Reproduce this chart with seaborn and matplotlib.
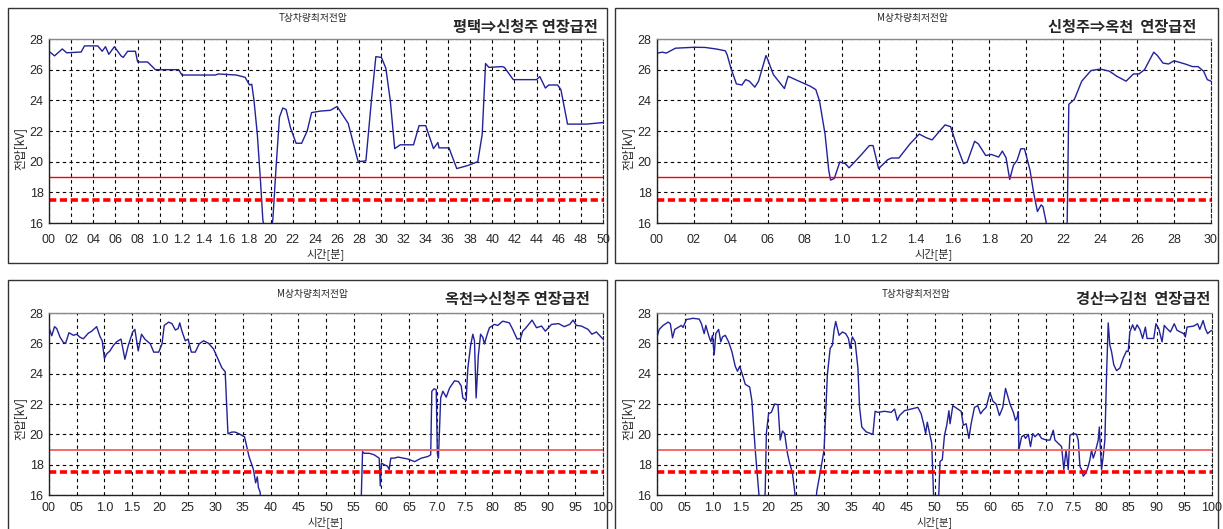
import numpy as np
import matplotlib
matplotlib.use("Agg")
import matplotlib.pyplot as plt
import seaborn as sns

# ---- data ----
titles = ["T상차량최저전압", "M상차량최저전압", "M상차량최저전압", "T상차량최저전압"]
routes = ["평택⇒신청주 연장급전", "신청주⇒옥천  연장급전", "옥천⇒신청주 연장급전", "경산⇒김천  연장급전"]
ylabel = "전압[kV]"
xlabel = "시간[분]"

xt_5 = ["00", "02", "04", "06", "08", "1.0", "1.2", "1.4", "1.6", "1.8", "20", "22", "24",
        "26", "28", "30", "32", "34", "36", "38", "40", "42", "44", "46", "48", "50"]
xt_3 = ["00", "02", "04", "06", "08", "1.0", "1.2", "1.4", "1.6", "1.8", "20", "22", "24",
        "26", "28", "30"]
xt_10 = ["00", "05", "1.0", "1.5", "20", "25", "30", "35", "40", "45", "50", "55", "60",
         "65", "7.0", "7.5", "80", "85", "90", "95", "100"]
yt = [16, 18, 20, 22, 24, 26, 28]

limit_solid = 19.0
limit_dashed = 17.5

x1 = [0, 0.05, 0.12, 0.16, 0.29, 0.32, 0.44, 0.48, 0.51, 0.54,
      0.59, 0.65, 0.67, 0.71, 0.78, 0.80, 0.89, 0.96, 1.17, 1.20,
      1.50, 1.53, 1.69, 1.77, 1.81, 1.83, 1.85, 1.88, 1.91, 1.93,
      1.96, 1.99, 2.02, 2.05, 2.08, 2.11, 2.14, 2.18, 2.23, 2.28,
      2.33, 2.37, 2.45, 2.54, 2.60, 2.70, 2.79, 2.86, 2.91, 2.95,
      3.0, 3.04, 3.08, 3.12, 3.17, 3.29, 3.34, 3.40, 3.47, 3.51,
      3.52, 3.61, 3.68, 3.78, 3.87, 3.91, 3.94, 3.97, 4.09, 4.11,
      4.19, 4.40, 4.43, 4.48, 4.51, 4.59, 4.62, 4.68, 4.85, 5.0]
v1 = [27.2, 26.9, 27.35, 27.1, 27.15, 27.55, 27.55, 27.2, 27.5, 27.0,
      27.5, 26.9, 26.8, 27.2, 27.2, 26.5, 26.5, 26.0, 26.0, 25.65,
      25.65, 25.72, 25.65, 25.5, 25.0, 25.05, 24.0, 21.8, 18.6, 16.2,
      15.0, 15.0, 16.2, 19.7, 22.9, 23.5, 23.4, 22.2, 21.2, 21.2,
      22.0, 23.2, 23.3, 23.35, 23.6, 22.5, 20.0, 20.05, 24.0, 26.85,
      26.8, 26.1, 24.0, 20.85, 21.1, 21.1, 22.35, 22.35, 20.85, 21.25,
      20.9, 20.9, 19.55, 19.75, 20.0, 21.8, 26.4, 26.15, 26.2, 26.15,
      25.35, 25.35, 25.55, 24.8, 25.0, 25.0, 24.7, 22.45, 22.45, 22.55]

x2 = [0, 0.03, 0.05, 0.10, 0.20, 0.26, 0.32, 0.37, 0.38, 0.40,
      0.43, 0.46, 0.48, 0.50, 0.53, 0.55, 0.59, 0.60, 0.63, 0.69,
      0.71, 0.73, 0.75, 0.83, 0.86, 0.88, 0.91, 0.93, 0.94, 0.96,
      0.99, 1.02, 1.04, 1.07, 1.11, 1.15, 1.17, 1.20, 1.25, 1.27,
      1.31, 1.37, 1.42, 1.46, 1.49, 1.52, 1.56, 1.59, 1.62, 1.66,
      1.68, 1.72, 1.74, 1.78, 1.81, 1.85, 1.87, 1.89, 1.91, 1.93,
      1.95, 1.97, 1.99, 2.02, 2.04, 2.06, 2.08, 2.09, 2.11, 2.13,
      2.22, 2.23, 2.26, 2.30, 2.35, 2.40, 2.45, 2.49, 2.54, 2.58,
      2.61, 2.64, 2.69, 2.71, 2.74, 2.77, 2.80, 2.86, 2.90, 2.93,
      2.96, 2.98, 3.0]
v2 = [27.08, 27.14, 27.08, 27.4, 27.46, 27.45, 27.35, 27.23, 26.97, 26.1,
      25.07, 25.0, 25.35, 25.25, 24.86, 25.25, 26.92, 26.65, 25.68, 24.77,
      25.57, 25.46, 25.35, 24.92, 24.7, 23.96, 21.8, 19.44, 18.8, 18.9,
      19.98, 19.87, 19.6, 19.98, 20.5, 21.05, 21.05, 19.55, 20.13, 20.24,
      20.24, 21.16, 21.8, 21.55, 21.42, 21.85, 22.4, 22.28, 21.16, 19.87,
      19.98, 21.33, 21.16, 20.4, 20.47, 20.3, 20.69, 20.26, 18.84, 19.76,
      20.09, 20.84, 20.84, 19.44, 17.94, 16.75, 17.18, 17.07, 15.9, 15.0,
      15.0, 23.74, 24.06, 25.25, 25.94, 26.04, 25.9, 25.57, 25.25, 25.72,
      25.72, 26.0, 27.14, 26.92, 26.43, 26.37, 26.58, 26.37, 26.2, 26.2,
      25.9, 25.35, 25.25]

x3 = [0, 0.05, 0.10, 0.14, 0.20, 0.26, 0.30, 0.36, 0.44, 0.50,
      0.56, 0.62, 0.71, 0.77, 0.82, 0.86, 0.92, 0.96, 1.00, 1.04,
      1.10, 1.16, 1.22, 1.30, 1.37, 1.43, 1.51, 1.55, 1.61, 1.67,
      1.73, 1.83, 1.89, 1.98, 2.04, 2.08, 2.16, 2.22, 2.28, 2.33,
      2.36, 2.40, 2.46, 2.51, 2.57, 2.64, 2.71, 2.79, 2.88, 2.97,
      3.06, 3.12, 3.18, 3.23, 3.30, 3.36, 3.45, 3.53, 3.61, 3.69,
      3.73, 3.76, 3.78, 3.81, 3.84, 5.63, 5.66, 5.69, 5.78, 5.87,
      5.96, 5.98, 6.00, 6.05, 6.11, 6.14, 6.17, 6.23, 6.30, 6.48,
      6.60, 6.72, 6.84, 6.89, 6.91, 6.95, 6.99, 7.01, 7.03, 7.07,
      7.11, 7.17, 7.23, 7.32, 7.39, 7.44, 7.47, 7.53, 7.56, 7.61,
      7.65, 7.68, 7.71, 7.75, 7.79, 7.83, 7.86, 7.91, 7.95, 8.04,
      8.10, 8.19, 8.31, 8.37, 8.45, 8.51, 8.55, 8.61, 8.72, 8.80,
      8.89, 8.96, 9.07, 9.20, 9.30, 9.40, 9.46, 9.52, 9.61, 9.73,
      9.80, 9.88, 10.0]
v3 = [27.03, 26.5, 27.1, 26.97, 26.4, 26.06, 26.0, 26.7, 26.53, 26.6,
      26.4, 26.3, 26.67, 26.8, 26.97, 27.1, 26.45, 26.17, 24.99, 25.3,
      25.5, 25.85, 26.1, 26.28, 24.95, 25.85, 26.75, 26.92, 25.5, 26.6,
      26.28, 25.96, 25.42, 25.42, 25.96, 27.18, 27.4, 27.3, 26.88, 26.97,
      27.35, 26.8, 26.17, 26.28, 25.42, 25.42, 25.96, 26.17, 26.0, 25.63,
      24.88, 24.39, 24.13, 20.04, 20.15, 20.15, 20.0, 19.83, 18.54, 17.68,
      16.8, 17.2, 16.5, 16.2, 15.0, 15.0, 18.86, 18.75, 18.75, 18.65,
      18.43, 16.6, 18.1, 18.0, 17.9, 17.68, 18.43, 18.43, 18.5, 18.37,
      18.2, 18.43, 18.54, 18.65, 22.84, 23.0, 22.95, 18.75, 18.43, 22.4,
      22.84, 22.45, 23.05, 23.53, 23.48, 23.2, 22.4, 22.24, 24.34, 25.85,
      26.6, 26.17, 22.4, 25.2, 26.6, 26.4, 25.96, 26.6, 27.03, 27.25,
      27.18, 27.46, 27.35, 26.92, 26.28, 26.32, 26.8, 27.03, 27.53, 27.03,
      27.14, 26.8, 27.25, 27.3, 27.1, 27.25, 27.53, 27.18, 27.14, 26.92,
      26.6, 26.75, 26.28]

x4 = [0, 0.04, 0.11, 0.20, 0.24, 0.28, 0.32, 0.38, 0.44, 0.47,
      0.53, 0.65, 0.76, 0.80, 0.85, 0.88, 0.93, 0.97, 1.00, 1.03,
      1.06, 1.11, 1.15, 1.18, 1.23, 1.29, 1.35, 1.41, 1.45, 1.49,
      1.53, 1.59, 1.67, 1.71, 1.77, 1.83, 1.86, 1.93, 1.95, 1.97,
      2.01, 2.06, 2.12, 2.18, 2.22, 2.26, 2.30, 2.35, 2.39, 2.44,
      2.48, 2.51, 2.85, 2.88, 2.95, 3.01, 3.07, 3.12, 3.16, 3.19,
      3.22, 3.28, 3.34, 3.40, 3.45, 3.48, 3.52, 3.57, 3.62, 3.65,
      3.69, 3.77, 3.89, 3.93, 3.98, 4.10, 4.22, 4.28, 4.33, 4.37,
      4.46, 4.58, 4.70, 4.76, 4.81, 4.84, 4.87, 4.92, 4.95, 4.98,
      5.00, 5.06, 5.08, 5.10, 5.14, 5.18, 5.22, 5.26, 5.28, 5.33,
      5.42, 5.48, 5.52, 5.57, 5.62, 5.66, 5.72, 5.78, 5.83, 5.87,
      5.93, 6.00, 6.05, 6.11, 6.17, 6.23, 6.28, 6.31, 6.36, 6.42,
      6.46, 6.49, 6.51, 6.52, 6.57, 6.61, 6.64, 6.69, 6.73, 6.77,
      6.81, 6.87, 6.93, 7.02, 7.08, 7.14, 7.17, 7.23, 7.29, 7.33,
      7.37, 7.41, 7.44, 7.50, 7.56, 7.59, 7.62, 7.65, 7.68, 7.73,
      7.77, 7.80, 7.83, 7.86, 7.89, 7.92, 7.95, 7.97, 7.99, 8.01,
      8.04, 8.07, 8.10, 8.13, 8.16, 8.19, 8.23, 8.28, 8.34, 8.40,
      8.46, 8.49, 8.52, 8.57, 8.61, 8.65, 8.70, 8.75, 8.80, 8.83,
      8.95, 8.99, 9.04, 9.10, 9.14, 9.19, 9.25, 9.32, 9.37, 9.49,
      9.52, 9.55, 9.67, 9.74, 9.78, 9.84, 9.88, 9.92, 9.97, 10.0]
v4 = [26.42, 26.92, 27.18, 27.4, 27.3, 26.36, 26.92, 27.05, 27.18, 27.05,
      27.57, 27.65, 27.6, 27.3, 26.64, 27.18, 26.53, 26.1, 26.53, 25.24,
      26.64, 26.92, 26.1, 26.42, 26.53, 26.1, 25.45, 24.48, 24.16, 24.48,
      24.05, 23.3, 23.12, 22.2, 18.97, 16.27, 15.0, 15.0, 16.27, 20.05,
      21.35, 21.45, 22.0, 21.95, 19.62, 20.22, 20.05, 18.75, 18.1, 17.46,
      16.27, 15.0, 15.0, 16.27, 17.68, 18.97, 23.94, 25.67, 25.88, 26.86,
      27.44, 26.53, 26.75, 26.64, 26.32, 25.67, 26.42, 26.1, 24.37, 21.78,
      20.48, 20.16, 20.0, 21.52, 21.45, 21.52, 21.45, 21.67, 20.92, 21.24,
      21.56, 21.67, 21.78, 21.35, 20.6, 20.05, 20.8, 19.94, 19.4, 16.27,
      15.0, 15.0, 16.27, 18.22, 18.32, 19.94, 20.59, 21.56, 20.7, 21.89,
      21.67, 21.52, 20.6, 20.7, 19.73, 20.7, 21.78, 21.89, 21.35, 21.56,
      21.78, 22.75, 22.2, 22.0, 21.24, 21.78, 23.03, 22.65, 22.0, 21.46,
      20.92, 21.13, 21.5, 18.97, 19.84, 19.94, 19.73, 20.0, 19.19, 20.05,
      19.84, 20.05, 19.73, 19.62, 19.62, 20.27, 19.62, 19.4, 19.19, 17.68,
      18.97, 17.68, 19.94, 20.05, 20.0, 19.62, 17.89, 17.68, 17.24, 17.46,
      17.89, 18.32, 18.97, 18.43, 18.75, 19.19, 19.62, 20.48, 18.97, 17.68,
      18.54, 19.62, 23.94, 27.35, 25.88, 25.45, 24.59, 24.2, 24.37, 25.02,
      25.5, 25.45, 26.75, 27.22, 26.86, 27.22, 26.92, 26.32, 27.07, 26.32,
      26.32, 27.29, 26.97, 26.1, 27.18, 26.97, 26.75, 27.29, 26.86, 26.64,
      26.42, 27.07, 27.14, 27.29, 26.92, 27.5, 26.97, 26.64, 26.8, 26.86]

# ---- layout (pixel boxes, top-left origin) ----
W, H = 1223, 529
panels = [
    dict(x=x1, y=v1, xmax=5.0, xt=xt_5, axes=(49, 603, 39, 223), box=(8, 607, 8, 263),
         title_x=313, title_y=18, route_x=598, route_y=27, xl_y=254, yl_y=148,
         xpad=8, xl_size=8, light=False),
    dict(x=x2, y=v2, xmax=3.0, xt=xt_3, axes=(657, 1211, 39, 223), box=(615, 1218, 8, 263),
         title_x=912, title_y=18, route_x=1196, route_y=27, xl_y=254, yl_y=148,
         xpad=8, xl_size=8, light=False),
    dict(x=x3, y=v3, xmax=10.0, xt=xt_10, axes=(49, 603, 313, 495), box=(8, 607, 280, 540),
         title_x=313, title_y=294, route_x=590, route_y=299, xl_y=522, yl_y=418,
         xpad=5, xl_size=7.5, light=True),
    dict(x=x4, y=v4, xmax=10.0, xt=xt_10, axes=(657, 1212, 313, 495), box=(615, 1218, 280, 540),
         title_x=916, title_y=294, route_x=1210, route_y=299, xl_y=522, yl_y=418,
         xpad=5, xl_size=7.5, light=True),
]

sns.set_style("white")
plt.rcParams["font.family"] = ["Liberation Sans", "Noto Sans CJK KR", "DejaVu Sans"]
kr = ["Noto Sans CJK KR", "DejaVu Sans"]

fig = plt.figure(figsize=(W / 100, H / 100), dpi=100)

for i, p in enumerate(panels):
    l, r, t, b = p["box"]
    fig.patches.append(plt.Rectangle((l / W, 1 - b / H), (r - l) / W, (b - t) / H,
                                     transform=fig.transFigure, fill=False,
                                     edgecolor="#333333", lw=1.0))
    al, ar, at, ab = p["axes"]
    ax = fig.add_axes([al / W, 1 - ab / H, (ar - al) / W, (ab - at) / H])

    sns.lineplot(x=p["x"], y=p["y"], ax=ax, color="#22229a", lw=1.0,
                 estimator=None, sort=False)
    ax.axhline(limit_solid, color="#f46a6a" if p["light"] else "red",
               lw=1.4 if p["light"] else 1.0)
    ax.axhline(limit_dashed, color="red", lw=2.6, linestyle=(0, (2, 1)))

    ax.set_xlim(0, p["xmax"])
    ax.set_ylim(16, 28)
    ax.set_xticks(np.linspace(0, p["xmax"], len(p["xt"])))
    ax.set_xticklabels(p["xt"])
    ax.set_yticks(yt)
    ax.tick_params(length=0, labelsize=9)
    ax.tick_params(axis="x", pad=p["xpad"])
    ax.tick_params(axis="y", pad=4)
    ax.grid(True, color="black", lw=0.8, linestyle=(0, (3, 3)))
    ax.set_axisbelow(True)
    ax.set_xlabel("")
    ax.set_ylabel("")
    for s in ["left", "bottom"]:
        ax.spines[s].set_color("#222222")
        ax.spines[s].set_linewidth(1.0)
    ax.spines["top"].set_color("#888888")
    ax.spines["top"].set_linewidth(1.0)
    ax.spines["right"].set_color("#222222")
    ax.spines["right"].set_linestyle((0, (3, 2)))

    fig.text(p["title_x"] / W, 1 - p["title_y"] / H, titles[i],
             ha="center", va="center", fontsize=7, family=kr)
    fig.text(p["route_x"] / W, 1 - p["route_y"] / H, routes[i],
             ha="right", va="center", fontsize=11, fontweight="bold", family=kr)
    fig.text(((al + ar) / 2) / W, 1 - p["xl_y"] / H, xlabel,
             ha="center", va="center", fontsize=p["xl_size"], family=kr)
    fig.text((al - 29) / W, 1 - p["yl_y"] / H, ylabel, rotation=90,
             ha="center", va="center", fontsize=8.5, family=kr)

fig.savefig("out.png", dpi=100)
